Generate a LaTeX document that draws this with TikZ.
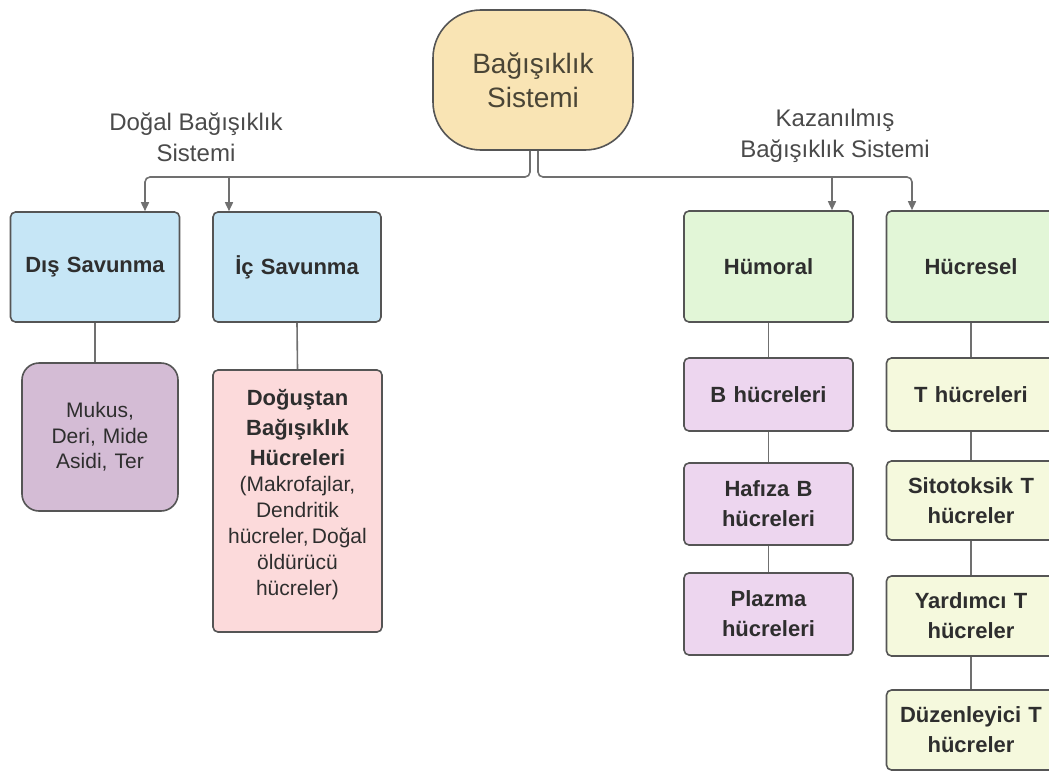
\documentclass[tikz,border=0pt]{standalone}
\usepackage{fontspec}
\setmainfont{Liberation Sans}
\usetikzlibrary{arrows.meta}
\definecolor{topfill}{HTML}{F9E4B4}
\definecolor{bluefill}{HTML}{C6E6F6}
\definecolor{mauvefill}{HTML}{D4BCD5}
\definecolor{pinkfill}{HTML}{FCDADB}
\definecolor{greenfill}{HTML}{E2F6D7}
\definecolor{lavfill}{HTML}{EDD6EF}
\definecolor{yelfill}{HTML}{F5F9DD}
\definecolor{boxline}{HTML}{555555}
\definecolor{lin}{HTML}{707070}
\definecolor{txt}{HTML}{2E2E2E}
\definecolor{lbltxt}{HTML}{4A4A4A}
\definecolor{toptxt}{HTML}{4A4536}
\begin{document}
\begin{tikzpicture}[x=1pt,y=-1pt,
  box/.style={draw=boxline, line width=1.6pt, rounded corners=5pt, align=center,
    text width=164pt, inner sep=0pt, minimum width=169pt,
    font=\fontsize{22}{30}\selectfont\bfseries, text=txt},
  conn/.style={draw=lin, line width=1.6pt},
  arr/.style={conn, -{Triangle[length=9pt,width=8pt]}},
  lbl/.style={align=center, font=\fontsize{24}{31}\selectfont, text=lbltxt}]
\useasboundingbox (0,0) rectangle (1049,771);

% top node
\node[draw=boxline, line width=1.6pt, fill=topfill, rounded corners=48pt,
  minimum width=200pt, minimum height=140pt, align=center, text=toptxt,
  font=\fontsize{28}{34}\selectfont] (top) at (533,80) {Bağışıklık\\Sistemi};

% labels
\node[lbl] (ldog) at (196,137) {Doğal Bağışıklık\\Sistemi};
\node[lbl] (lkaz) at (835,136) {Kazanılmış\\Bağışıklık Sistemi};

% left side
\node[box, fill=bluefill, minimum height=110pt] (dis) at (95,267) {Dış Savunma};
\node[box, fill=bluefill, minimum width=168pt, minimum height=110pt] (ic) at (297,267) {İç Savunma};
\node[box, fill=mauvefill, rounded corners=17pt, minimum width=156pt, text width=150pt,
  minimum height=148pt, font=\fontsize{21}{25.5}\selectfont] (muk) at (100,437) {Mukus,\\Deri, Mide\\Asidi, Ter};
\node[box, fill=pinkfill, minimum height=262pt] (dog) at (297.5,501) {};
\node[align=center, text width=164pt, inner sep=0pt, text=txt] (dogt) at (297.5,495)
  {{\fontsize{22}{30}\selectfont\bfseries Doğuştan\\Bağışıklık\\Hücreleri\par}
   {\fontsize{21}{26}\selectfont (Makrofajlar,\\Dendritik\\hücreler, Doğal\\öldürücü\\hücreler)\par}};

% right side
\node[box, fill=greenfill, minimum height=111pt] (hum) at (768.5,266.5) {Hümoral};
\node[box, fill=greenfill, minimum height=111pt] (huc) at (971,266.5) {Hücresel};
\node[box, fill=lavfill, minimum height=73pt] (bh) at (768.5,394.5) {B hücreleri};
\node[box, fill=lavfill, minimum height=82pt] (haf) at (768.5,504) {Hafıza B\\hücreleri};
\node[box, fill=lavfill, minimum height=82pt] (pla) at (768.5,614) {Plazma\\hücreleri};
\node[box, fill=yelfill, minimum height=73pt] (th) at (971,394.5) {T hücreleri};
\node[box, fill=yelfill, minimum height=79pt] (sit) at (971,500.5) {Sitotoksik T\\hücreler};
\node[box, fill=yelfill, minimum height=80pt] (yar) at (971,616) {Yardımcı T\\hücreler};
\node[box, fill=yelfill, minimum height=80pt] (duz) at (971,730) {Düzenleyici T\\hücreler};

% connectors from top
\coordinate (jl) at (530,177);
\coordinate (jr) at (538,177);
\coordinate (disin) at ([xshift=50pt]dis.north);
\coordinate (icin) at ([xshift=-68pt]ic.north);
\coordinate (humin) at ([xshift=63.5pt]hum.north);
\coordinate (hucin) at ([xshift=-59pt]huc.north);
\draw[arr, rounded corners=5pt] (top.south -| jl) -- (jl) -| (disin);
\draw[arr] (icin |- jl) -- (icin);
\draw[arr, rounded corners=5pt] (top.south -| jr) -- (jr) -| (hucin);
\draw[arr] (humin |- jr) -- (humin);

% vertical chains
\draw[conn] (dis.south) -- (dis.south |- muk.north);
\draw[conn] (ic.south) -- (dog.north);
\draw[conn] (hum.south) -- (bh.north);
\draw[conn] (bh.south) -- (haf.north);
\draw[conn] (haf.south) -- (pla.north);
\draw[conn] (huc.south) -- (th.north);
\draw[conn] (th.south) -- (sit.north);
\draw[conn] (sit.south) -- (yar.north);
\draw[conn] (yar.south) -- (duz.north);
\end{tikzpicture}
\end{document}
